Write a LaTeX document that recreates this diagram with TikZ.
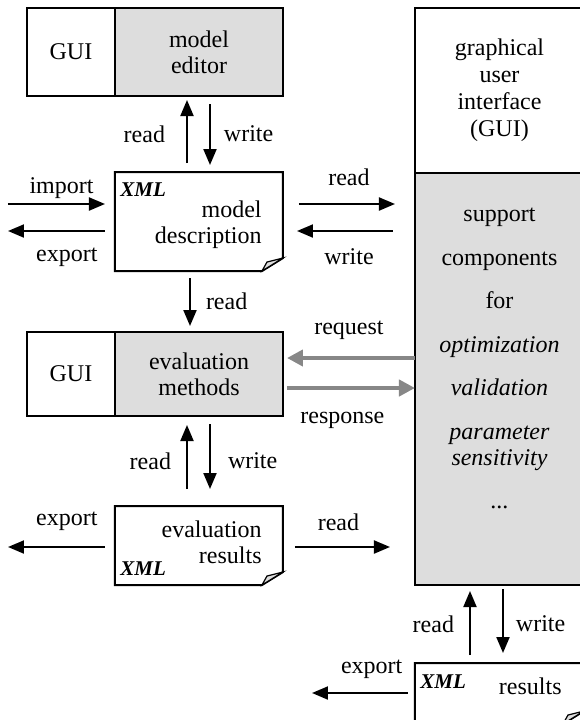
\documentclass[tikz,border=0pt]{standalone}
\usepackage{fontspec}
\setmainfont{Liberation Serif}
\usetikzlibrary{positioning, arrows.meta}
\definecolor{boxgray}{RGB}{221,221,221}
\definecolor{linkgray}{RGB}{135,135,135}
\tikzset{>={Triangle[length=8pt, width=6.5pt]}, node distance=0pt,
  every node/.style={font=\fontsize{12}{13}\selectfont},
  box/.style={rectangle, draw, line width=1pt, align=center, inner sep=0pt, outer sep=0pt},
  shaded/.style={box, fill=boxgray},
  xmldoc/.style={rectangle, inner sep=0pt, outer sep=0pt},
  xmltag/.style={font=\fontsize{10.5}{12}\selectfont\bfseries\itshape, inner sep=0pt},
  doctext/.style={align=right, inner sep=0pt},
  flow/.style={->, line width=1pt},
  link/.style={->, line width=2pt, draw=linkgray, >={Triangle[length=8pt, width=8pt]}},
  lbl/.style={inner sep=0pt}}
\newcommand\docoutline[1]{%
  \draw[line width=1pt] (#1.north west) -- (#1.north east) -- ([yshift=6.5pt]#1.south east)
    -- ([xshift=-10.5pt]#1.south east) -- (#1.south west) -- cycle;
  \draw[line width=0.6pt, fill=boxgray] ([xshift=-10.5pt]#1.south east)
    -- ([xshift=-8pt, yshift=4.5pt]#1.south east) -- ([yshift=6.5pt]#1.south east) -- cycle;}

\begin{document}
\begin{tikzpicture}[x=0.5pt, y=-0.5pt]
\path[use as bounding box, fill=white] (0,0) rectangle (580,720);
\clip (0,0) rectangle (580,720);

\node[shaded, minimum width=84pt, minimum height=44pt] (editor) at (199,52) {model\\editor};
\node[box, minimum width=44pt, minimum height=44pt, left=0pt of editor] (gui1) {GUI};

\node[xmldoc, minimum width=84pt, minimum height=49.5pt] (desc) at (199,221.5) {};
\docoutline{desc}
\node[xmltag, anchor=north west] (descxml) at ([xshift=2.5pt, yshift=-5pt]desc.north west) {XML};
\node[doctext, anchor=north east] (desctxt) at ([xshift=-10.5pt, yshift=-14.3pt]desc.north east) {model\\description};

\node[shaded, minimum width=84pt, minimum height=42pt] (evalm) at (199,374) {evaluation\\methods};
\node[box, minimum width=44pt, minimum height=42pt, left=0pt of evalm] (gui2) {GUI};

\node[xmldoc, minimum width=84pt, minimum height=39.5pt] (evres) at (199,545.5) {};
\docoutline{evres}
\node[xmltag, anchor=south west] (evresxml) at ([xshift=2.5pt, yshift=4.5pt]evres.south west) {XML};
\node[doctext, anchor=north east] (evrestxt) at ([xshift=-10.5pt, yshift=-7.3pt]evres.north east) {evaluation\\results};

\node[box, minimum width=84.5pt, minimum height=82.5pt, font=\fontsize{12}{13.5}\selectfont] (rgui) at (499.5,90.5) {graphical\\user\\interface\\(GUI)};
\node[shaded, minimum width=84.5pt, minimum height=206pt, below=0pt of rgui] (sup) {};
\node[anchor=north, align=center, inner sep=0pt] (suptxt) at ([yshift=-17.5pt]sup.north) {support\\[8.75pt] components\\[8.75pt] for\\[8.75pt] \textit{optimization}\\[8.75pt] \textit{validation}\\[8.75pt] \textit{parameter}\\ \textit{sensitivity}\\[8.75pt] ...};

\node[xmldoc, minimum width=84.5pt, minimum height=30.5pt] (resd) at (499.5,693.5) {};
\docoutline{resd}
\node[xmltag, anchor=north west] (resdxml) at ([xshift=2.5pt, yshift=-5.5pt]resd.north west) {XML};
\node[doctext, anchor=north east] (resdtxt) at ([xshift=-11pt, yshift=-7.3pt]resd.north east) {results};

\coordinate (impin) at (8,204);
\coordinate (expdesc) at (8,231);
\coordinate (expres) at (8,547);
\coordinate (expfin) at (312,693);
\coordinate (req) at ([yshift=8pt]evalm.east);
\coordinate (resp) at ([yshift=-7pt]evalm.east);

\draw[flow, shorten <=4.5pt, shorten >=2pt] ([xshift=-6pt]desc.north) -- node[lbl, left=10.5pt] {read} ([xshift=-6pt]editor.south);
\draw[flow, shorten <=4pt, shorten >=3.5pt] ([xshift=5.5pt]editor.south) -- node[lbl, right=6.5pt] {write} ([xshift=5.5pt]desc.north);

\draw[flow, shorten >=5pt] (impin) -- node[lbl, above=2pt] {import} (impin -| desc.west);
\draw[flow, shorten <=5pt] (expdesc -| desc.west) -- node[lbl, below=8pt, pos=0.45] {export} (expdesc);
\draw[flow, shorten <=8pt, shorten >=10pt] (impin -| desc.east) -- node[lbl, above=8.5pt] {read} (impin -| sup.west);
\draw[flow, shorten <=11pt, shorten >=7pt] (expdesc -| sup.west) -- node[lbl, below=8.5pt] {write} (expdesc -| desc.east);

\draw[flow, shorten <=3.5pt, shorten >=3pt] ([xshift=-4.5pt]desc.south) -- node[lbl, right=7.5pt] {read} ([xshift=-4.5pt]evalm.north);

\draw[link, shorten >=2pt] (req -| sup.west) -- node[lbl, above=8pt] {request} (req);
\draw[link, shorten <=2pt] (resp) -- node[lbl, below=11pt, pos=0.45] {response} (resp -| sup.west);

\draw[flow, shorten <=8.5pt, shorten >=4.5pt] ([xshift=-6pt]evres.north) -- node[lbl, left=7.5pt] {read} ([xshift=-6pt]evalm.south);
\draw[flow, shorten <=4pt, shorten >=8.5pt] ([xshift=5.5pt]evalm.south) -- node[lbl, right=8.5pt] {write} ([xshift=5.5pt]evres.north);

\draw[flow, shorten <=5pt] (expres -| evres.west) -- node[lbl, above=7.5pt, pos=0.45] {export} (expres);
\draw[flow, shorten <=6pt, shorten >=12.5pt] (expres -| evres.east) -- node[lbl, above=7.5pt, pos=0.42] {read} (expres -| sup.west);

\draw[flow, shorten <=4pt, shorten >=3pt] ([xshift=-14.75pt]resd.north) -- node[lbl, left=7.5pt] {read} ([xshift=-14.75pt]sup.south);
\draw[flow, shorten <=2pt, shorten >=5pt] ([xshift=1.75pt]sup.south) -- node[lbl, right=6pt] {write} ([xshift=1.75pt]resd.north);
\draw[flow, shorten <=3.5pt] (expfin -| resd.west) -- node[lbl, above=6.5pt, pos=0.42] {export} (expfin);
\end{tikzpicture}
\end{document}
